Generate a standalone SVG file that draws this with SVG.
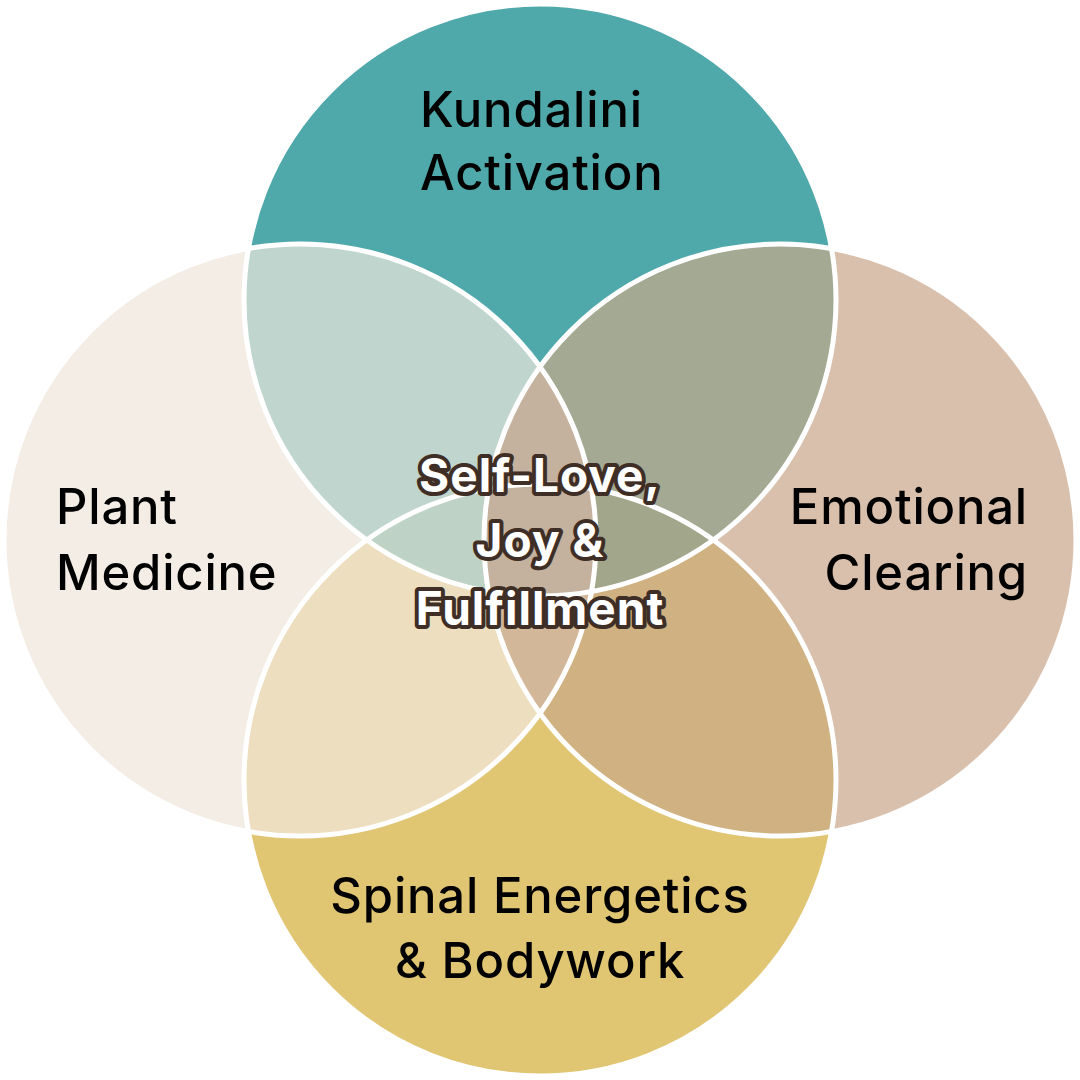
<svg xmlns="http://www.w3.org/2000/svg" width="1080" height="1080" viewBox="0 0 1080 1080">
<style>
.lbl{font-family:Inter,"Noto Sans","DejaVu Sans",sans-serif;font-weight:500;font-size:49px;letter-spacing:0.8px;fill:#000}
.ctr{font-family:Inter,"Noto Sans","DejaVu Sans",sans-serif;font-weight:700;font-size:46px;letter-spacing:1px;fill:#fff;stroke:#3F2E26;stroke-width:8;stroke-linejoin:round;paint-order:stroke;text-anchor:middle}
.edge{fill:none;stroke:#fff;stroke-width:5}
</style>
<defs>
<circle id="T" cx="540" cy="300" r="296"/>
<circle id="L" cx="300" cy="540" r="296"/>
<circle id="R" cx="780" cy="540" r="296"/>
<circle id="B" cx="540" cy="780" r="296"/>
<clipPath id="cT"><use href="#T"/></clipPath>
<clipPath id="cL"><use href="#L"/></clipPath>
<clipPath id="cB"><use href="#B"/></clipPath>
</defs>
<rect width="1080" height="1080" fill="#fff"/>
<g id="regions">
<use href="#T" fill="#4FA8A9"/>
<use href="#L" fill="#F3EDE6"/>
<use href="#R" fill="#D9C0AD"/>
<use href="#B" fill="#E0C573"/>
<g clip-path="url(#cT)"><use href="#L" fill="#C0D5CE"/><use href="#R" fill="#A4A993"/></g>
<g clip-path="url(#cB)"><use href="#L" fill="#ECDEBF"/><use href="#R" fill="#D0B182"/></g>
<g clip-path="url(#cB)"><g clip-path="url(#cT)"><use href="#L" fill="#BED3C6"/><use href="#R" fill="#A2A68B"/></g></g>
<g clip-path="url(#cL)"><use href="#R" fill="#D3B799"/></g>
<g clip-path="url(#cL)"><g clip-path="url(#cT)"><use href="#R" fill="#C4B29E"/></g></g>
</g>
<g id="connectors">
<use href="#T" class="edge"/>
<use href="#L" class="edge"/>
<use href="#R" class="edge"/>
<use href="#B" class="edge"/>
</g>
<g id="node-top"><text class="lbl" x="420" y="127">Kundalini</text><text class="lbl" x="420" y="190">Activation</text></g>
<g id="node-left"><text class="lbl" x="56" y="524">Plant</text><text class="lbl" x="56" y="590">Medicine</text></g>
<g id="node-right"><text class="lbl" x="1028" y="524" text-anchor="end">Emotional</text><text class="lbl" x="1028" y="590" text-anchor="end">Clearing</text></g>
<g id="node-bottom"><text class="lbl" x="540" y="913" text-anchor="middle">Spinal Energetics</text><text class="lbl" x="540" y="978" text-anchor="middle">&amp; Bodywork</text></g>
<g id="node-center"><text class="ctr" x="540" y="492">Self-Love,</text><text class="ctr" x="540" y="557">Joy &amp;</text><text class="ctr" x="540" y="625">Fulfillment</text></g>
</svg>
